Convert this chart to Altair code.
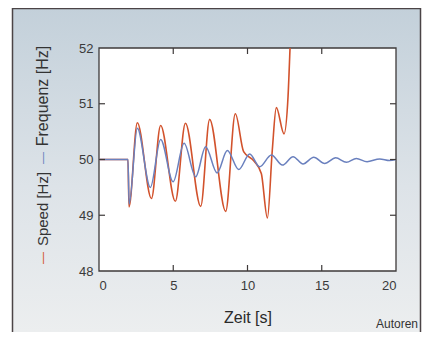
import altair as alt
import pandas as pd

# Frequenz (blue): step, then damped oscillation
t_freq = [0, 1.95, 2.03, 2.58, 3.46, 4.15, 4.99, 5.73, 6.51, 7.18, 7.95, 8.64, 9.41,
          10.15, 10.82, 11.61, 12.35, 13.07, 13.74, 14.46, 15.2, 15.94, 16.66,
          17.33, 18.05, 18.9, 19.57, 20]
v_freq = [50, 50, 49.2, 50.56, 49.5, 50.36, 49.6, 50.29, 49.69, 50.23, 49.76, 50.16, 49.82,
          50.10, 49.87, 50.08, 49.90, 50.05, 49.92, 50.04, 49.93, 50.03, 49.95,
          50.02, 49.96, 50.01, 49.98, 50.0]

# Speed (red) – growing oscillation, then runs away above 52
t_speed = [0, 1.95, 2.02, 2.58, 3.53, 4.15, 5.14, 5.82, 6.85, 7.45, 8.53, 9.18, 9.74,
           10.45, 10.93, 11.34, 11.67, 11.94, 12.46, 12.73, 12.86, 12.95]
v_speed = [50, 50, 49.15, 50.66, 49.30, 50.61, 49.25, 50.65, 49.16, 50.72, 49.07, 50.82, 50.14,
           49.97, 49.75, 48.95, 50.17, 50.93, 50.46, 51.13, 51.97, 52.6]

x_ticks = [0, 5, 10, 15, 20]
y_ticks = [48, 49, 50, 51, 52]
inner_x_ticks = [5, 10, 15]
inner_y_ticks = [49, 50, 51]

W, H = 297, 223
FONT = "Liberation Sans"
RED = "#d2522c"
BLUE = "#6a80be"
DARK = "#3e3a3a"

freq = pd.DataFrame({"t": t_freq, "v": v_freq})
speed = pd.DataFrame({"t": t_speed, "v": v_speed})
xt = pd.DataFrame({"p": inner_x_ticks})
yt = pd.DataFrame({"q": inner_y_ticks})
one = pd.DataFrame({"k": [0]})

xs = alt.Scale(domain=[0, 20], nice=False, zero=False)
ys = alt.Scale(domain=[48, 52], nice=False, zero=False)

x_axis = alt.Axis(values=x_ticks, title="Zeit [s]", format="d", labelPadding=8,
                  titlePadding=17, titleFontSize=16, zindex=1)
y_axis = alt.Axis(values=y_ticks, title=None, format="d", labelPadding=6, zindex=1)

bg = alt.Chart(one).mark_rect(
    fill=alt.Gradient(gradient="linear",
                      stops=[alt.GradientStop(color="#c3d0da", offset=0),
                             alt.GradientStop(color="#dde3e8", offset=0.55),
                             alt.GradientStop(color="#eceeef", offset=1)],
                      x1=0, x2=0, y1=0, y2=1)
).encode(x=alt.value(-86), x2=alt.value(322), y=alt.value(-40), y2=alt.value(284))

border_l = alt.Chart(one).mark_rule(color="#4b4446", strokeWidth=1.5).encode(
    x=alt.value(-86.5), y=alt.value(-40), y2=alt.value(284))
border_r = alt.Chart(one).mark_rule(color="#4b4446", strokeWidth=1.5).encode(
    x=alt.value(321.5), y=alt.value(-40), y2=alt.value(284))
border_t = alt.Chart(one).mark_rule(color="#4b4446", strokeWidth=1.5).encode(
    x=alt.value(-86.5), x2=alt.value(321.5), y=alt.value(-39.5))

plot_bg = alt.Chart(one).mark_rect(fill="white", stroke=DARK, strokeWidth=1.3).encode(
    x=alt.value(0), x2=alt.value(W), y=alt.value(0), y2=alt.value(H))

speed_line = alt.Chart(speed).mark_line(color=RED, strokeWidth=1.6, clip=True,
                                         interpolate="monotone").encode(
    x=alt.X("t:Q", scale=xs, axis=x_axis),
    y=alt.Y("v:Q", scale=ys, axis=y_axis))

freq_line = alt.Chart(freq).mark_line(color=BLUE, strokeWidth=1.5, clip=True,
                                       interpolate="monotone").encode(
    x=alt.X("t:Q", scale=xs, axis=x_axis),
    y=alt.Y("v:Q", scale=ys, axis=y_axis))

tick_b = alt.Chart(xt).mark_rule(color=DARK, strokeWidth=1.2).encode(
    x=alt.X("p:Q", scale=xs, axis=x_axis), y=alt.value(H), y2=alt.value(H - 6))
tick_t = alt.Chart(xt).mark_rule(color=DARK, strokeWidth=1.2).encode(
    x=alt.X("p:Q", scale=xs, axis=x_axis), y=alt.value(0), y2=alt.value(6))
tick_l = alt.Chart(yt).mark_rule(color=DARK, strokeWidth=1.2).encode(
    y=alt.Y("q:Q", scale=ys, axis=y_axis), x=alt.value(0), x2=alt.value(6))
tick_r = alt.Chart(yt).mark_rule(color=DARK, strokeWidth=1.2).encode(
    y=alt.Y("q:Q", scale=ys, axis=y_axis), x=alt.value(W), x2=alt.value(W - 6))

def vtext(txt, color, ypos, size=16):
    return alt.Chart(one).mark_text(text=txt, angle=270, align="center", baseline="middle",
                                    font=FONT, fontSize=size, color=color).encode(
        x=alt.value(-56), y=alt.value(ypos))

t_red = vtext("—", RED, 210, size=12)
t_spd = vtext("Speed [Hz]", "#333333", 161, size=15)
t_blue = vtext("—", BLUE, 110, size=12)
t_frq = vtext("Frequenz [Hz]", "#333333", 48)

autoren = alt.Chart(one).mark_text(text="Autoren", align="right", baseline="alphabetic",
                                    font=FONT, fontSize=12, color="#333333").encode(
    x=alt.value(319), y=alt.value(280))

chart = alt.layer(
    bg, border_l, border_r, border_t, plot_bg, speed_line, freq_line,
    tick_b, tick_t, tick_l, tick_r, t_red, t_spd, t_blue, t_frq, autoren
).properties(
    width=W, height=H,
    autosize=alt.AutoSizeParams(type="none"),
    padding={"left": 91, "top": 40, "right": 26, "bottom": 61},
    background="white",
).configure_view(stroke=None).configure_axis(
    domain=False, ticks=False, tickSize=0, grid=False,
    labelFont=FONT, labelFontSize=13, labelColor="#3a3a3a",
    titleFont=FONT, titleFontWeight="normal", titleColor="#2a2a2a",
)

chart.save("out.html", embed_options={"renderer": "svg", "actions": False})
